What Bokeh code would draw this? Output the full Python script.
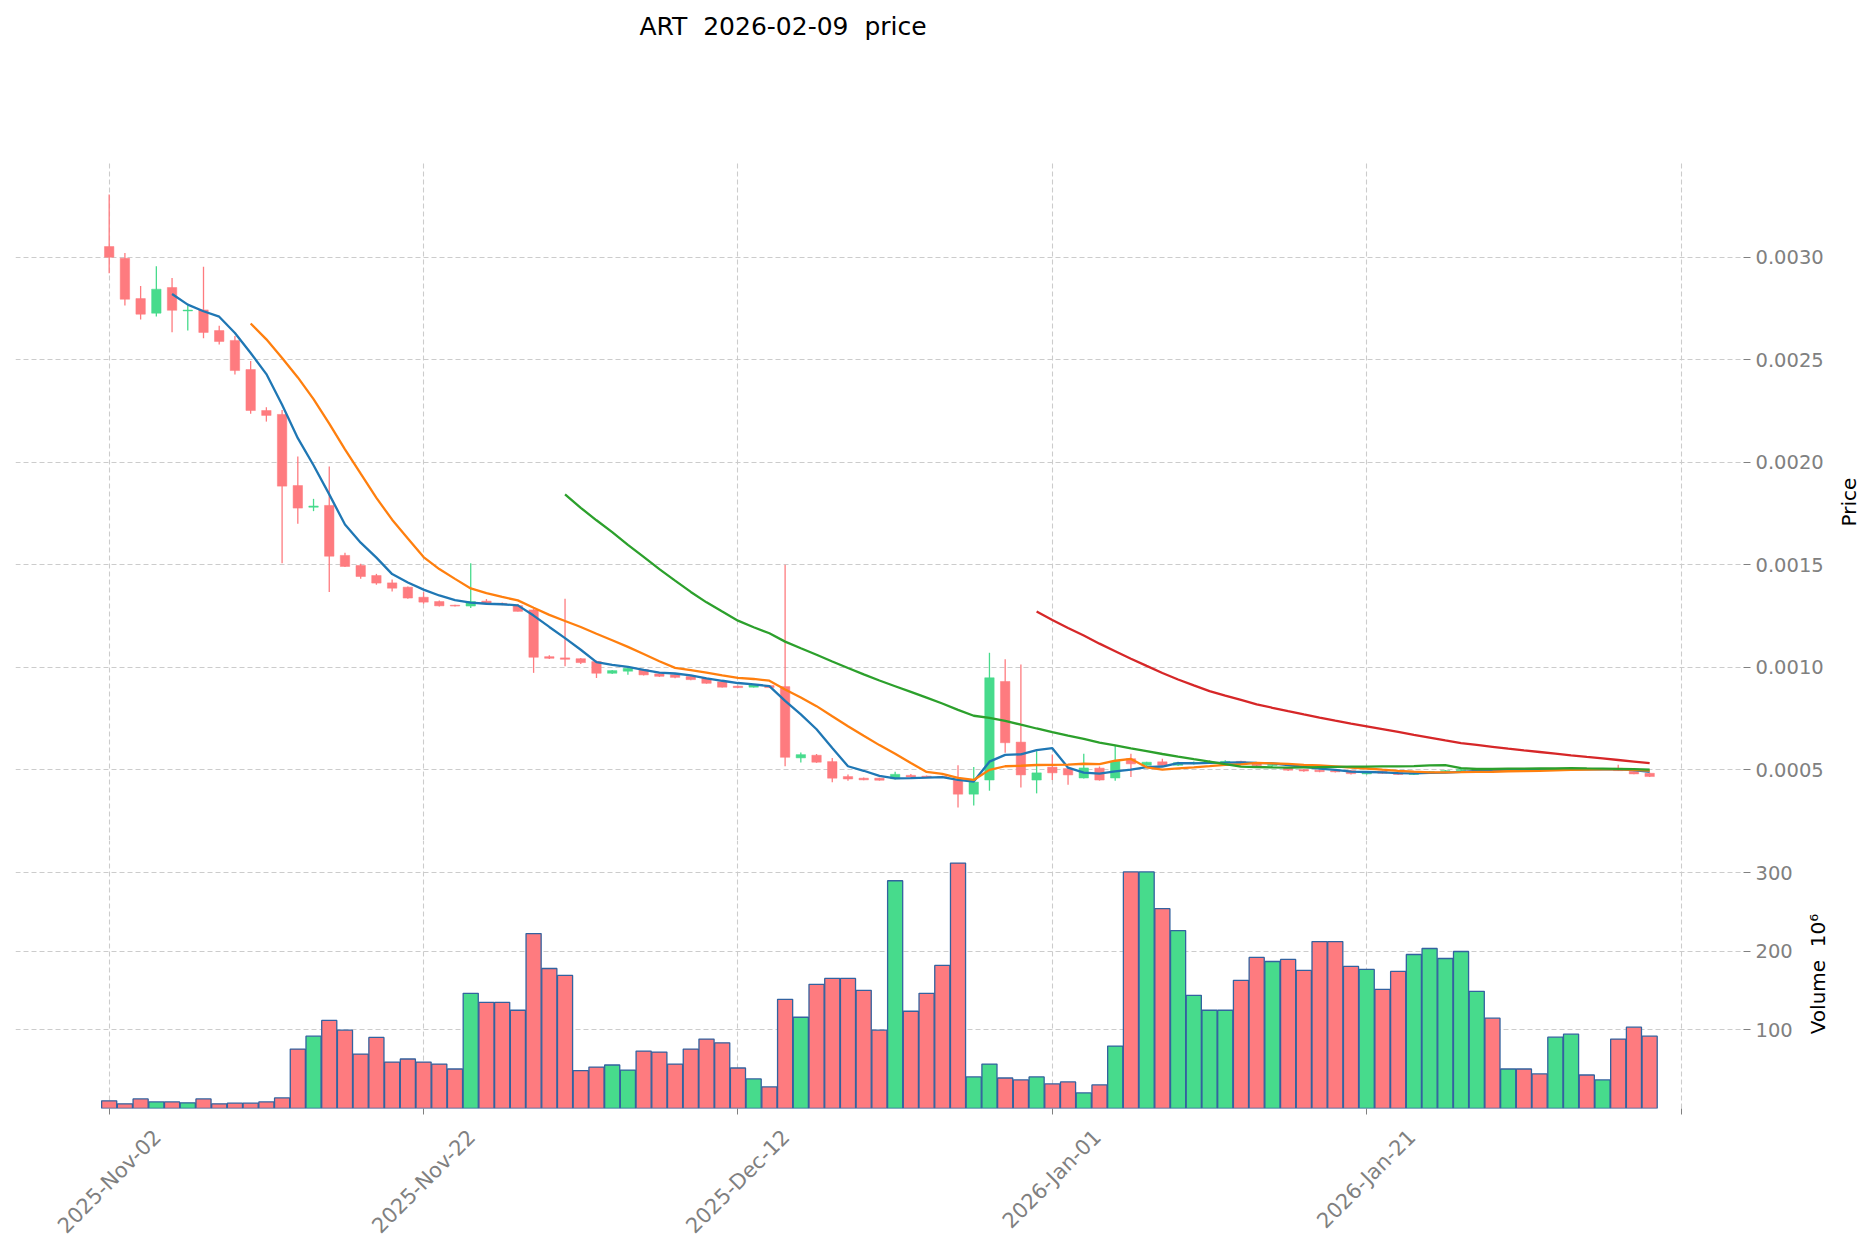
import json
import numpy as np
import pandas as pd
from bokeh.plotting import figure
from bokeh.models import (ColumnDataSource, Range1d, FixedTicker, NumeralTickFormatter,
                          CustomJSTickFormatter, Label)
from bokeh.layouts import column, row
from bokeh.embed import file_html
from bokeh.resources import INLINE

# ---------------- data ----------------
start_date = "2025-11-02"
opens = [0.003052, 0.002995, 0.002798, 0.002727, 0.002852, 0.002738, 0.002743, 0.002642, 0.002594, 0.002452,
         0.002252, 0.002233, 0.001886, 0.001780, 0.001789, 0.001545, 0.001496, 0.001447, 0.001411, 0.001390,
         0.001341, 0.001320, 0.001302, 0.001298, 0.001322, 0.001311, 0.001300, 0.001279, 0.001051, 0.001045,
         0.001041, 0.001027, 0.000970, 0.000980, 0.000988, 0.000967, 0.000963, 0.000954, 0.000944, 0.000928,
         0.000907, 0.000902, 0.000910, 0.000905, 0.000557, 0.000570, 0.000539, 0.000466, 0.000458, 0.000458,
         0.000455, 0.000472, 0.000468, 0.000466, 0.000448, 0.000380, 0.000449, 0.000930, 0.000634, 0.000449,
         0.000512, 0.000505, 0.000459, 0.000507, 0.000459, 0.000553, 0.000521, 0.000538, 0.000521, 0.000530,
         0.000533, 0.000536, 0.000540, 0.000530, 0.000519, 0.000510, 0.000500, 0.000497, 0.000494, 0.000495,
         0.000479, 0.000492, 0.000486, 0.000476, 0.000482, 0.000490, 0.000495, 0.000500, 0.000503, 0.000498,
         0.000503, 0.000499, 0.000496, 0.000502, 0.000506, 0.000501, 0.000506, 0.000492, 0.000482]
highs = [0.003306, 0.003021, 0.002860, 0.002956, 0.002899, 0.002764, 0.002953, 0.002665, 0.002615, 0.002493,
         0.002268, 0.002255, 0.002028, 0.001821, 0.001979, 0.001558, 0.001504, 0.001455, 0.001428, 0.001393,
         0.001366, 0.001325, 0.001304, 0.001507, 0.001332, 0.001315, 0.001308, 0.001284, 0.001058, 0.001333,
         0.001045, 0.001032, 0.000986, 0.000999, 0.000991, 0.000970, 0.000967, 0.000957, 0.000946, 0.000930,
         0.000909, 0.000917, 0.000912, 0.001500, 0.000583, 0.000576, 0.000557, 0.000476, 0.000462, 0.000460,
         0.000490, 0.000478, 0.000471, 0.000470, 0.000521, 0.000513, 0.001070, 0.001038, 0.001013, 0.000590,
         0.000574, 0.000508, 0.000577, 0.000515, 0.000615, 0.000577, 0.000538, 0.000553, 0.000538, 0.000540,
         0.000545, 0.000546, 0.000543, 0.000533, 0.000530, 0.000510, 0.000503, 0.000500, 0.000497, 0.000498,
         0.000492, 0.000495, 0.000488, 0.000486, 0.000493, 0.000498, 0.000503, 0.000507, 0.000505, 0.000506,
         0.000505, 0.000501, 0.000505, 0.000509, 0.000508, 0.000507, 0.000523, 0.000495, 0.000485]
lows = [0.002922, 0.002764, 0.002696, 0.002711, 0.002634, 0.002642, 0.002605, 0.002574, 0.002428, 0.002236,
        0.002198, 0.001507, 0.001699, 0.001761, 0.001366, 0.001488, 0.001431, 0.001402, 0.001369, 0.001333,
        0.001309, 0.001296, 0.001296, 0.001288, 0.001303, 0.001302, 0.001271, 0.000972, 0.001040, 0.001004,
        0.001015, 0.000947, 0.000967, 0.000963, 0.000959, 0.000952, 0.000946, 0.000936, 0.000919, 0.000900,
        0.000898, 0.000900, 0.000898, 0.000516, 0.000534, 0.000533, 0.000438, 0.000446, 0.000448, 0.000446,
        0.000452, 0.000460, 0.000461, 0.000459, 0.000315, 0.000325, 0.000397, 0.000582, 0.000413, 0.000384,
        0.000449, 0.000426, 0.000456, 0.000446, 0.000446, 0.000464, 0.000518, 0.000515, 0.000518, 0.000525,
        0.000528, 0.000530, 0.000526, 0.000516, 0.000515, 0.000493, 0.000490, 0.000487, 0.000486, 0.000476,
        0.000476, 0.000479, 0.000473, 0.000473, 0.000480, 0.000487, 0.000492, 0.000497, 0.000495, 0.000496,
        0.000496, 0.000493, 0.000494, 0.000500, 0.000499, 0.000499, 0.000493, 0.000477, 0.000464]
closes = [0.003000, 0.002795, 0.002722, 0.002844, 0.002741, 0.002742, 0.002633, 0.002589, 0.002447, 0.002252,
          0.002228, 0.001883, 0.001776, 0.001786, 0.001541, 0.001491, 0.001442, 0.001410, 0.001385, 0.001337,
          0.001317, 0.001299, 0.001298, 0.001320, 0.001312, 0.001305, 0.001272, 0.001048, 0.001043, 0.001038,
          0.001022, 0.000970, 0.000983, 0.000994, 0.000962, 0.000955, 0.000950, 0.000939, 0.000921, 0.000902,
          0.000900, 0.000915, 0.000900, 0.000560, 0.000573, 0.000536, 0.000458, 0.000454, 0.000450, 0.000448,
          0.000477, 0.000464, 0.000464, 0.000462, 0.000380, 0.000439, 0.000948, 0.000631, 0.000474, 0.000484,
          0.000484, 0.000474, 0.000508, 0.000449, 0.000541, 0.000528, 0.000536, 0.000521, 0.000534, 0.000535,
          0.000538, 0.000540, 0.000530, 0.000520, 0.000525, 0.000497, 0.000493, 0.000490, 0.000489, 0.000480,
          0.000489, 0.000482, 0.000476, 0.000482, 0.000490, 0.000495, 0.000500, 0.000503, 0.000498, 0.000503,
          0.000499, 0.000496, 0.000502, 0.000506, 0.000501, 0.000504, 0.000495, 0.000479, 0.000466]
volumes = [9.7, 5.9, 12.2, 8.4, 8.4, 7.2, 12.2, 5.9, 6.8, 6.8,
           8.4, 13.5, 75.5, 92.0, 112.0, 99.6, 69.2, 90.3, 59.0, 62.9,
           59.0, 56.5, 50.2, 146.4, 135.0, 135.0, 124.9, 222.4, 178.0, 169.2,
           48.1, 52.7, 55.3, 48.9, 73.0, 71.7, 56.5, 75.5, 88.2, 83.5,
           51.5, 37.6, 27.4, 138.8, 116.0, 157.8, 165.4, 165.4, 150.2, 99.6,
           289.5, 123.6, 146.4, 181.9, 312.0, 40.1, 56.5, 38.8, 36.3, 40.1,
           31.2, 33.8, 19.8, 30.0, 79.3, 300.8, 300.8, 254.0, 226.2, 143.9,
           124.9, 124.9, 162.9, 192.0, 186.9, 189.5, 175.5, 212.2, 212.2, 180.6,
           176.8, 151.5, 174.3, 195.8, 203.4, 190.7, 199.6, 148.9, 114.8, 50.2,
           50.2, 43.9, 90.7, 94.5, 42.6, 36.3, 88.2, 103.4, 92.0]

ma_windows = [5, 10, 30, 60]
ma_colors = ["#1f77b4", "#ff7f0e", "#2ca02c", "#d62728"]
price_ticks = [0.0005, 0.0010, 0.0015, 0.0020, 0.0025, 0.0030]
volume_ticks = [100, 200, 300]
date_tick_idx = [0, 20, 40, 60, 80, 100]
date_label_idx = [0, 20, 40, 60, 80]
date_labels = ["2025-Nov-02", "2025-Nov-22", "2025-Dec-12", "2026-Jan-01", "2026-Jan-21"]
title_text = "ART\u00a0 2026-02-09\u00a0 price"
price_label = "Price"
volume_label = "Volume\u00a0 10\u2076"

# ---------------- styling ----------------
UP = "#47db8c"
DOWN = "#fe7b7f"
EDGE = "#33629f"
GRID = "#cccccc"
TICK_GRAY = "#808080"
FONT = "DejaVu Sans"

n = len(closes)
idx = np.arange(n)
o = np.array(opens); h = np.array(highs); l = np.array(lows); c = np.array(closes)
colors = [UP if c[i] >= o[i] else DOWN for i in range(n)]
src = ColumnDataSource(dict(
    x=idx, open=o, high=h, low=l, close=c,
    top=np.maximum(o, c), bottom=np.minimum(o, c),
    vol=np.array(volumes), color=colors,
))

XR = (-5.96, 103.97)
PR = (0.000154, 0.003467)
VR = (0.0, 340.7)
FRAME_W = 1728
TITLE_H = 52
PRICE_TOP = 161
PRICE_H = 679
VOL_H = 268
VOL_BOTTOM = 122
LEFT_B = 15
px_per_day = FRAME_W / (XR[1] - XR[0])


def style_common(fig):
    fig.outline_line_color = None
    fig.background_fill_color = "white"
    fig.border_fill_color = "white"
    fig.xgrid.ticker = FixedTicker(ticks=date_tick_idx)
    for g in (fig.xgrid, fig.ygrid):
        g.grid_line_color = GRID
        g.grid_line_dash = "5 3"
        g.grid_line_width = 1.1
    ax = fig.yaxis[0]
    ax.axis_line_color = None
    ax.major_tick_line_color = TICK_GRAY
    ax.major_tick_out = 7
    ax.major_tick_in = 0
    ax.minor_tick_line_color = None
    ax.major_label_standoff = 5
    ax.major_label_text_color = TICK_GRAY
    ax.major_label_text_font = FONT
    ax.major_label_text_font_size = "19.5px"


def label_strip(width, frame_h, top, bottom, text, x_px, y_px):
    """Narrow figure holding a rotated axis title (reads bottom to top)."""
    s = figure(frame_width=width, frame_height=frame_h,
               x_range=Range1d(0, width), y_range=Range1d(0, frame_h),
               x_axis_location=None, y_axis_location=None,
               output_backend="svg", toolbar_location=None,
               min_border_left=0, min_border_right=0, min_border_top=top, min_border_bottom=bottom,
               title=None)
    s.outline_line_color = None
    s.xgrid.visible = False
    s.ygrid.visible = False
    s.add_layout(Label(x=x_px, y=y_px, text=text, angle=np.pi / 2,
                       text_align="center", text_baseline="middle",
                       text_font=FONT, text_font_size="20px", text_color="black"))
    return s


# ---------------- title strip ----------------
t = figure(frame_width=FRAME_W, frame_height=TITLE_H,
           x_range=Range1d(0, FRAME_W), y_range=Range1d(0, TITLE_H),
           x_axis_location=None, y_axis_location=None,
           output_backend="svg", toolbar_location=None,
           min_border_left=LEFT_B, min_border_right=122, min_border_top=0, min_border_bottom=0,
           title=None)
t.outline_line_color = None
t.xgrid.visible = False
t.ygrid.visible = False
t.add_layout(Label(x=782.5 - LEFT_B, y=TITLE_H - 26, text=title_text,
                   text_align="center", text_baseline="middle",
                   text_font=FONT, text_font_size="25px", text_color="black"))

# ---------------- price panel ----------------
PRICE_RIGHT = 93   # frame right edge 1743 -> figure ends at 1836
p = figure(frame_width=FRAME_W, frame_height=PRICE_H,
           x_range=Range1d(*XR), y_range=Range1d(*PR),
           y_axis_location="right", output_backend="svg", toolbar_location=None,
           min_border_left=LEFT_B, min_border_right=PRICE_RIGHT, min_border_top=PRICE_TOP - TITLE_H,
           min_border_bottom=0, title=None)
p.xaxis.visible = False
style_common(p)
p.yaxis.ticker = FixedTicker(ticks=price_ticks)
p.ygrid.ticker = FixedTicker(ticks=price_ticks)
p.yaxis.formatter = NumeralTickFormatter(format="0.0000")

p.segment(x0="x", y0="high", x1="x", y1="low", color="color", line_width=1.3, source=src)
p.vbar(x="x", width=0.6, top="top", bottom="bottom", fill_color="color", line_color="color",
       line_width=0.5, source=src)

close_s = pd.Series(closes)
for w, col in zip(ma_windows, ma_colors):
    ma = close_s.rolling(w).mean().to_numpy()
    p.line(idx, ma, line_color=col, line_width=2.3)

p_lab = label_strip(30, PRICE_H, PRICE_TOP - TITLE_H, 0, price_label,
                    1848.5 - (LEFT_B + FRAME_W + PRICE_RIGHT), (PRICE_TOP + PRICE_H) - 501.5)

# ---------------- volume panel ----------------
VOL_RIGHT = 57     # figure ends at 1800
v = figure(frame_width=FRAME_W, frame_height=VOL_H,
           x_range=p.x_range, y_range=Range1d(*VR),
           y_axis_location="right", output_backend="svg", toolbar_location=None,
           min_border_left=LEFT_B, min_border_right=VOL_RIGHT, min_border_top=0,
           min_border_bottom=VOL_BOTTOM, title=None)
style_common(v)
v.yaxis.ticker = FixedTicker(ticks=volume_ticks)
v.ygrid.ticker = FixedTicker(ticks=volume_ticks)

# x labels: centred under their ticks (label anchor shifted right by half the rotated text)
shift_px = [48.3, 48.3, 48.1, 45.2, 45.2]
label_pos = [round(d + s / px_per_day, 4) for d, s in zip(date_label_idx, shift_px)]
xa = v.xaxis[0]
xa.ticker = FixedTicker(ticks=label_pos, minor_ticks=date_tick_idx)
xa.formatter = CustomJSTickFormatter(code=(
    "const pos = %s; const lab = %s;"
    "for (let i = 0; i < pos.length; i++) { if (Math.abs(tick - pos[i]) < 1e-3) { return lab[i]; } }"
    "return '';" % (json.dumps(label_pos), json.dumps(date_labels))))
xa.axis_line_color = None
xa.major_tick_line_color = None
xa.major_tick_out = 0
xa.major_tick_in = 0
xa.minor_tick_line_color = TICK_GRAY
xa.minor_tick_out = 6
xa.minor_tick_in = 0
xa.major_label_orientation = np.pi / 4
xa.major_label_standoff = 19
xa.major_label_text_color = TICK_GRAY
xa.major_label_text_font = FONT
xa.major_label_text_font_size = "21px"

v.vbar(x="x", width=0.96, top="vol", bottom=0, fill_color="color", line_color=EDGE,
       line_width=1.3, source=src)

v_lab = label_strip(66, VOL_H, 0, VOL_BOTTOM, volume_label,
                    1817.5 - (LEFT_B + FRAME_W + VOL_RIGHT), (PRICE_TOP + PRICE_H + VOL_H) - 973.5)

layout = column(t, row(p, p_lab, spacing=0), row(v, v_lab, spacing=0), spacing=0)
open("out.html", "w").write(file_html(layout, INLINE))
